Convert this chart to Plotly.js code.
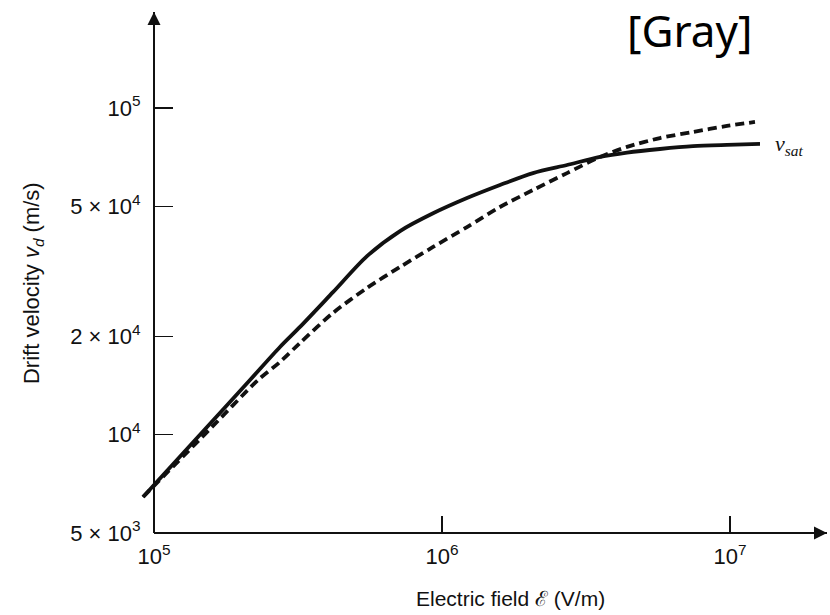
<!DOCTYPE html>
<html>
<head>
<meta charset="utf-8">
<script src="https://cdn.plot.ly/plotly-3.0.1.min.js"></script>
<style>html,body{margin:0;padding:0;background:#fff;}#chart{width:830px;height:615px;}</style>
</head>
<body>
<div id="chart"></div>
<script>
// Electric field (V/m) and drift velocity (m/s)
const fieldSolid = [9.16e4, 1.528e5, 2.154e5, 2.738e5, 3.213e5, 4.182e5, 5.49e5, 7.15e5, 9.31e5, 1.221e6, 1.590e6, 2.070e6, 2.717e6, 3.537e6, 4.389e6, 5.71e6, 7.44e6, 9.76e6, 1.271e7];
const velocitySolid = [6446, 1.056e4, 1.470e4, 1.855e4, 2.137e4, 2.73e4, 3.52e4, 4.20e4, 4.76e4, 5.30e4, 5.81e4, 6.32e4, 6.69e4, 7.08e4, 7.30e4, 7.49e4, 7.64e4, 7.71e4, 7.76e4];

const fieldDashed = [9.16e4, 1.590e5, 2.297e5, 2.738e5, 3.213e5, 4.182e5, 5.49e5, 7.15e5, 9.31e5, 1.221e6, 1.590e6, 2.070e6, 2.717e6, 3.537e6, 4.389e6, 5.71e6, 7.44e6, 9.76e6, 1.221e7];
const velocityDashed = [6446, 1.056e4, 1.470e4, 1.669e4, 1.909e4, 2.358e4, 2.812e4, 3.261e4, 3.754e4, 4.320e4, 4.977e4, 5.61e4, 6.32e4, 7.08e4, 7.60e4, 8.09e4, 8.445e4, 8.81e4, 9.06e4];

const xTickVals = [1e5, 1e6, 1e7];
const xTickText = ['10<sup>5</sup>', '10<sup>6</sup>', '10<sup>7</sup>'];
const yTickVals = [5e3, 1e4, 2e4, 5e4, 1e5];
const yTickText = ['5 \u00d7 10<sup>3</sup>', '10<sup>4</sup>', '2 \u00d7 10<sup>4</sup>', '5 \u00d7 10<sup>4</sup>', '10<sup>5</sup>'];

const ink = '#111';
const yAxisPos = 0.02322;

const traces = [
  {x: fieldSolid, y: velocitySolid, type: 'scatter', mode: 'lines', name: 'solid',
   line: {color: ink, width: 3.8, shape: 'spline', smoothing: 0.8}, showlegend: false},
  {x: fieldDashed, y: velocityDashed, type: 'scatter', mode: 'lines', name: 'dashed',
   line: {color: ink, width: 3.8, dash: '9px,5px', shape: 'spline', smoothing: 0.8}, showlegend: false}
];

const tickFont = {family: 'Liberation Sans, Arial, sans-serif', size: 22, color: ink};

const layout = {
  width: 830, height: 615,
  margin: {l: 138, r: 3, t: 12, b: 82},
  paper_bgcolor: '#fff', plot_bgcolor: '#fff',
  showlegend: false,
  xaxis: {
    type: 'log', range: [4.9444, 7.3368],
    tickvals: xTickVals, ticktext: xTickText,
    ticks: 'inside', ticklen: 17, tickwidth: 1.5, tickcolor: ink,
    showline: false, showgrid: false, zeroline: false,
    tickfont: tickFont, ticklabelstandoff: 8
  },
  yaxis: {
    type: 'log', range: [3.699, 5.2938],
    anchor: 'free', position: yAxisPos,
    tickvals: yTickVals, ticktext: yTickText,
    ticks: 'inside', ticklen: 18, tickwidth: 1.5, tickcolor: ink,
    showline: true, linecolor: ink, linewidth: 2,
    showgrid: false, zeroline: false,
    tickfont: tickFont, ticklabelstandoff: 8
  },
  shapes: [
    {type: 'line', xref: 'paper', yref: 'paper', x0: yAxisPos, x1: 1, y0: 0, y1: 0,
     line: {color: ink, width: 2}}
  ],
  annotations: [
    {xref: 'paper', yref: 'paper', x: 1, y: 0, ax: -24, ay: 0, text: '', showarrow: true,
     arrowhead: 2, arrowsize: 1.3, arrowwidth: 2, arrowcolor: ink},
    {xref: 'paper', yref: 'paper', x: yAxisPos, y: 1, ax: 0, ay: 24, text: '', showarrow: true,
     arrowhead: 2, arrowsize: 1.3, arrowwidth: 2, arrowcolor: ink},
    {xref: 'paper', yref: 'paper', x: 0.540, y: -0.1248, xanchor: 'center', yanchor: 'middle',
     text: 'Electric field \u2130 (V/m)', showarrow: false,
     font: {family: 'Liberation Sans, Arial, sans-serif', size: 21, color: ink}},
    {xref: 'paper', yref: 'paper', x: -0.1524, y: 0.4798, xanchor: 'center', yanchor: 'middle',
     text: 'Drift velocity <i>v<sub>d</sub></i> (m/s)', showarrow: false, textangle: -90,
     font: {family: 'Liberation Sans, Arial, sans-serif', size: 22, color: ink}},
    {xref: 'paper', yref: 'paper', x: 0.9449, y: 0.7447, xanchor: 'center', yanchor: 'middle',
     text: '<i>v<sub>sat</sub></i>', showarrow: false,
     font: {family: 'Liberation Serif, Times New Roman, serif', size: 22, color: ink}},
    {xref: 'paper', yref: 'paper', x: 0.801, y: 0.9655, xanchor: 'center', yanchor: 'middle',
     text: '[Gray]', showarrow: false,
     font: {family: 'Noto Sans, sans-serif', size: 44, color: '#000'}}
  ]
};

Plotly.newPlot('chart', traces, layout, {displayModeBar: false, staticPlot: true});
</script>
</body>
</html>
